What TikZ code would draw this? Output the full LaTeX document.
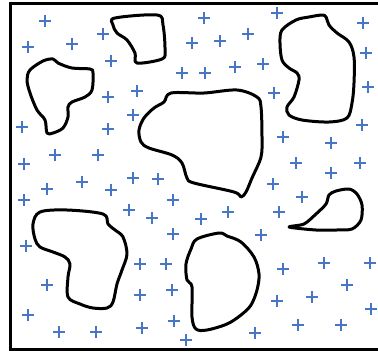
\documentclass[tikz,border=0pt]{standalone}
\usepackage{tikz}

\definecolor{crossblue}{RGB}{72,118,198}

\begin{document}
\begin{tikzpicture}[
    x=1pt, y=-1pt,
    frame/.style={draw, line width=3pt},
    blob/.style={draw, line width=3pt, line join=round},
    cross/.style={draw=crossblue, line width=1.5pt}
]

\useasboundingbox (0,0) rectangle (378,354);
\clip (0,0) rectangle (378,354);

% outer frame (right side runs off the picture)
\draw[frame] (10,3) rectangle (386,349.5);

% islands
\draw[blob] plot[smooth cycle, tension=0.55] coordinates {
    (115,18) (157,15) (163,25) (165,50) (162,59) (137,63) (135,53) (127,40) (117,33) (113,25)};
\draw[blob] plot[smooth cycle, tension=0.55] coordinates {
    (30,70) (43,61) (53,59) (58,63) (72,68) (90,69) (93,73) (92,90) (85,97) (72,102)
    (68,107) (68,117) (63,128) (53,133) (47,133) (45,120) (37,110) (30,93) (27,80)};
\draw[blob] plot[smooth cycle, tension=0.55] coordinates {
    (171,93) (204,93) (237,90) (257,97) (261,107) (262,137) (261,157) (252,178) (246,192)
    (241,197) (234,192) (194,183) (187,178) (182,163) (172,155) (149,148) (141,142)
    (139,130) (144,118) (154,108) (164,102)};
\draw[blob] plot[smooth cycle, tension=0.55] coordinates {
    (282,30) (296,20) (309,17) (322,15) (326,17) (329,25) (337,33) (349,42) (354,57)
    (354,83) (352,103) (347,118) (329,122) (302,120) (289,115) (287,107) (294,97)
    (299,80) (297,73) (289,68) (282,60) (280,43)};
\draw[blob] plot[smooth cycle, tension=0.5] coordinates {
    (289,227) (304,224) (316,214) (326,204) (329,195) (336,191) (349,189) (357,194)
    (362,205) (361,220) (352,229) (336,230) (316,230)};
\draw[blob] plot[smooth cycle, tension=0.55] coordinates {
    (40,212) (67,210) (103,214) (108,224) (115,230) (123,237) (127,254) (122,270)
    (117,284) (113,302) (107,308) (93,308) (80,304) (68,297) (68,277) (70,264)
    (65,257) (53,252) (40,247) (35,239) (33,224)};
\draw[blob] plot[smooth cycle, tension=0.55] coordinates {
    (197,239) (219,233) (227,236) (241,242) (254,257) (259,274) (257,290) (251,305)
    (241,315) (227,324) (207,330) (196,329) (192,317) (192,287) (187,280) (186,264)
    (191,249)};

% charges
\foreach \x/\y in {
    45/21, 28/47, 72/44, 103/34, 111/61, 137/91, 108/97, 133/115, 108/129, 22/127,
    55/155, 98/155, 24/164, 182/73, 192/43, 204/18, 277/13, 220/41, 248/34, 205/73,
    235/67, 263/64, 274/93, 363/23, 366/53, 368/87, 362/125, 283/137, 331/143, 296/163,
    331/173, 360/163, 133/178, 158/179, 47/189, 82/182, 111/190, 24/200, 173/200, 129/210,
    152/218, 173/234, 26/246, 140/264, 166/264, 47/285, 140/295, 172/290, 28/315, 142/328,
    174/321, 59/332, 96/332, 186/340, 273/184, 302/197, 201/219, 228/212, 279/212, 261/235,
    283/269, 324/263, 370/263, 347/285, 277/301, 312/297, 371/309, 298/325, 341/325, 255/333}
    \draw[cross] (\x-6,\y) -- ++(12,0) (\x,\y-6) -- ++(0,12);

\end{tikzpicture}
\end{document}
